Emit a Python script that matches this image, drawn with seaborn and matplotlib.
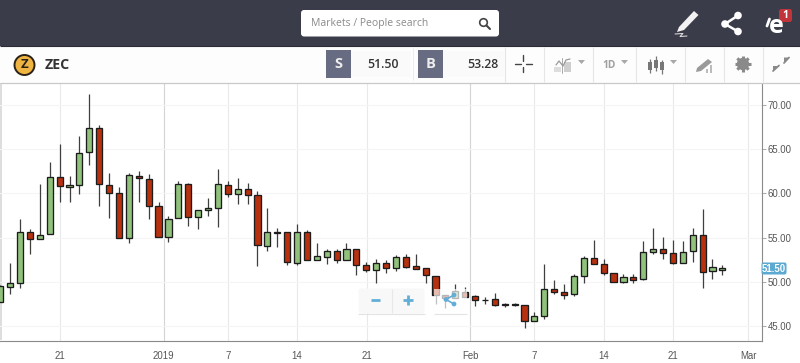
import numpy as np
import pandas as pd
import matplotlib
matplotlib.use("Agg")
import matplotlib.pyplot as plt
from matplotlib.patches import FancyBboxPatch, Rectangle, Circle, Polygon
import seaborn as sns

open_ = [47.72,49.45,49.83,55.64,54.88,55.38,61.82,60.69,60.92,64.65,67.36,60.92,60.01,54.96,62.00,61.66,58.58,55.04,57.19,61.03,57.37,58.12,58.38,60.99,59.90,60.47,59.85,54.09,55.56,55.67,52.16,55.60,52.50,52.84,53.45,52.44,53.68,51.87,51.34,52.13,51.60,52.84,51.76,51.53,50.66,48.51,48.14,48.88,48.40,47.95,48.03,47.35,47.51,47.35,45.60,46.08,49.22,48.82,48.66,50.63,52.66,51.98,51.00,49.97,50.51,50.29,53.34,53.68,53.23,52.09,53.45,55.33,51.26,51.34]
close = [49.53,49.83,55.64,54.88,55.33,61.82,60.81,60.95,64.61,67.36,61.03,60.01,54.99,62.12,61.74,58.58,55.04,57.11,61.03,57.37,58.16,58.32,61.03,59.93,60.50,59.85,54.20,55.60,55.64,52.21,55.60,52.50,52.89,53.45,52.44,53.68,51.94,51.34,52.13,51.60,52.84,51.71,51.49,50.81,48.55,48.14,48.96,48.32,47.98,47.98,47.41,47.46,47.35,45.60,46.10,49.22,48.85,48.55,50.66,52.66,51.98,51.00,50.00,50.51,50.24,53.34,53.68,53.30,52.13,53.34,55.33,51.15,51.64,51.53]
high = [49.6,52.16,57.07,56.01,61.10,63.59,65.59,62.0,66.53,71.28,67.74,62.28,60.76,62.31,62.54,62.16,59.06,57.45,61.40,61.21,58.16,59.45,62.73,61.44,61.78,61.21,60.24,58.38,56.12,55.67,56.58,55.90,54.43,53.68,53.75,54.43,53.68,52.24,52.55,52.50,53.07,53.15,53.12,51.53,50.66,48.51,49.72,49.45,48.48,48.32,48.77,47.61,47.61,47.35,46.59,52.02,50.17,49.75,50.89,52.96,54.73,52.55,51.0,50.89,50.89,54.62,56.09,55.04,54.73,54.62,56.12,58.20,52.55,51.94]
low = [47.7,48.59,49.30,53.15,54.88,55.38,59.0,59.06,59.93,63.18,58.61,57.19,54.99,54.36,59.0,57.07,55.04,54.47,57.19,56.35,55.94,57.45,56.17,59.56,58.80,58.80,51.79,53.45,53.91,51.87,51.94,52.50,52.50,52.02,52.16,52.44,50.81,51.11,49.90,50.97,51.26,51.53,51.49,49.90,47.49,47.04,48.14,48.32,47.27,47.49,47.27,47.15,47.27,44.78,45.60,45.76,48.59,48.09,48.36,49.90,51.98,50.77,50.0,49.83,49.83,50.21,53.11,52.62,51.98,52.09,52.28,49.30,50.35,50.77]

y_ticks = [45, 50, 55, 60, 65, 70]
x_tick_days = [6, 16.5, 23, 30, 37.1, 47.5, 54, 61, 68, 75.6]
x_tick_labels = ["21", "2019", "7", "14", "21", "Feb", "7", "14", "21", "Mar"]
symbol = "ZEC"
sell_price = "51.50"
buy_price = "53.28"
last_price = 51.50

GREEN = "#90c27c"
RED = "#b8310f"
EDGE = "#1c1c1c"
WICK = "#3f3f3f"
HEADER = "#3b3c49"
BLOCK = "#686c82"
BLUE = "#5ca9d2"
W, H = 800, 363

sns.set_theme(style="white")
plt.rcParams["font.family"] = ["Open Sans", "DejaVu Sans"]

fig = plt.figure(figsize=(W / 100, H / 100), dpi=100, facecolor="white")
ax = fig.add_axes([0, (H - 340.5) / H, 762 / W, (340.5 - 83) / H])

df = pd.DataFrame({"day": np.arange(len(open_)), "open": open_, "high": high, "low": low, "close": close})
df["lower"] = df[["open", "close"]].min(axis=1)
df["body"] = (df["open"] - df["close"]).abs()

wicks = df.melt(id_vars="day", value_vars=["high", "low"], value_name="price")
sns.lineplot(data=wicks, x="day", y="price", units="day", estimator=None, color=WICK,
             linewidth=0.9, legend=False, ax=ax, zorder=3, solid_capstyle="butt")

for sub, col in ((df[df.close >= df.open], GREEN), (df[df.close < df.open], RED)):
    sns.barplot(data=sub, x="day", y="body", bottom=sub["lower"].values, native_scale=True,
                width=0.62, color=col, saturation=1, edgecolor=EDGE, linewidth=0.95,
                errorbar=None, ax=ax, zorder=4)

ax.set_xlim(-0.03, 762 / 9.895)
ax.set_ylim(43.36, 72.49)
ax.set_xlabel("")
ax.set_ylabel("")
ax.set_xticks(x_tick_days)
ax.set_xticklabels(x_tick_labels)
ax.yaxis.tick_right()
ax.set_yticks(y_ticks)
ax.set_yticklabels([f"{v:.2f}" for v in y_ticks])
ax.tick_params(axis="x", length=3, width=0.7, color="#aaaaaa", labelsize=6.9, labelcolor="#555555", pad=4.5)
ax.tick_params(axis="y", length=3, width=0.7, color="#aaaaaa", labelsize=6.9, labelcolor="#555555", pad=1.2)
for t in ax.get_xticklabels() + ax.get_yticklabels():
    t.set_fontfamily(["Liberation Sans", "DejaVu Sans"])
ax.yaxis.grid(True, color="#f5f5f5", linewidth=0.8)
ax.xaxis.grid(True, color="#e9e9e9", linewidth=0.8)
for g, lab in zip(ax.get_xgridlines(), x_tick_labels):
    if lab in ("2019", "Feb"):
        g.set_color("#d4d4d4")
ax.set_axisbelow(True)
for s in ("top", "left"):
    ax.spines[s].set_visible(False)
ax.spines["right"].set_color("#8a8a8a")
ax.spines["bottom"].set_color("#8a8a8a")
ax.spines["right"].set_linewidth(0.8)
ax.spines["bottom"].set_linewidth(0.8)
ax.patch.set_alpha(0)

# page chrome, in a full-figure pixel overlay
ui = fig.add_axes([0, 0, 1, 1], zorder=10)
ui.set_xlim(0, W)
ui.set_ylim(H, 0)
ui.axis("off")
ui.patch.set_alpha(0)
under = fig.add_axes([0, 0, 1, 1], zorder=-1)
under.set_xlim(0, W)
under.set_ylim(H, 0)
under.axis("off")
under.add_patch(Rectangle((0, 83), 1.5, 257, color="#dddddd", lw=0))


def rect(x, y, w, h, c, **k):
    ui.add_patch(Rectangle((x, y), w, h, facecolor=c, edgecolor="none", **k))


def rbox(x, y, w, h, c, r=2.5, **k):
    k.setdefault("edgecolor", "none")
    ui.add_patch(FancyBboxPatch((x + r, y + r), w - 2 * r, h - 2 * r,
                                boxstyle=f"round,pad={r},rounding_size={r}", facecolor=c, **k))


def txt(x, y, s, size, c, weight="normal", ha="center", **k):
    ui.text(x, y, s, fontsize=size, color=c, fontweight=weight, ha=ha, va="center", **k)


def seg(xs, ys, c, lw=1.0, **k):
    ui.plot(xs, ys, color=c, lw=lw, solid_capstyle=k.pop("cap", "round"), **k)


rect(0, 0, W, 46, HEADER)
rect(0, 46, W, 36.5, "#fdfdfd")
seg([0, W], [82.5, 82.5], "#c9c9c9", 0.9, cap="butt")
seg([0, W], [46, 46], "#2b2c36", 0.8, cap="butt")

# search box
rbox(301, 10, 198, 26.5, "white", r=3)
txt(311, 23.5, "Markets / People search", 7.5, "#8a8a8a", ha="left")
ui.add_patch(Circle((483.5, 22.5), 3.8, facecolor="none", edgecolor="#444444", lw=1.2))
seg([486.5, 490], [25.5, 29], "#444444", 1.5)

# pencil
ui.add_patch(Polygon([[679, 27], [694, 11], [698.5, 15], [684, 30], [677, 32]], closed=True, facecolor="#f2f2f2", edgecolor="none"))
seg([675, 683, 680, 687], [34, 33.5, 36.5, 36], "#e6e6e6", 0.7)

# share
for cx, cy in ((738, 15.5), (725, 24), (738, 31.5)):
    ui.add_patch(Circle((cx, cy), 3.8, color="white", lw=0))
seg([738, 725, 738], [15.5, 24, 31.5], "white", 1.8)

# notification logo
ui.text(776, 26.5, "e", fontsize=18, fontweight="bold", color="white", ha="center", va="center")
seg([767, 769.5], [26, 19], "white", 2.0)
rbox(779, 9, 13, 13, "#c0343a", r=2.5)
txt(785.5, 15.5, "1", 7.5, "white", "bold")

# coin and symbol
ui.add_patch(Circle((24.5, 65), 10, facecolor="#f0b443", edgecolor="#2a2118", lw=1.4))
txt(24.5, 65, "Z", 9.5, "#2a2118", "bold")
txt(45, 65, symbol, 10.2, "#333333", "bold", ha="left")

# sell / buy
rect(326, 50, 24.5, 27.5, BLOCK)
txt(338, 64, "S", 10.5, "#eeeeee", "bold")
rect(350.5, 51, 60, 26, "#fafafa")
txt(399, 64.5, sell_price, 8.8, "#333333", "semibold", ha="right")
rect(418, 50, 24.5, 27.5, BLOCK)
txt(430.5, 64, "B", 10.5, "#eeeeee", "bold")
rect(442.5, 51, 61, 26, "#fafafa")
txt(499, 64.5, buy_price, 8.8, "#333333", "semibold", ha="right")

# toolbar separators
for sx in (504.5, 543.5, 592.5, 635.5, 684.5, 724, 762.5):
    seg([sx, sx], [47, 82], "#e6e6e6", 0.8, cap="butt")
seg([412.5, 412.5], [48, 80], "#ececec", 0.7, cap="butt")

# crosshair
seg([514.5, 521], [64, 64], "#444444", 1)
seg([526, 532], [64, 64], "#444444", 1)
seg([523, 523], [55, 61], "#444444", 1)
seg([523, 523], [67, 72], "#444444", 1)

# indicators icon
rect(564, 62, 7, 10, "#cfcfcf")
rect(554, 67, 7, 5, "#dddddd")
seg([556, 559, 563, 566, 570], [65, 61, 66, 60, 59], "#9a9a9a", 0.9)
seg([562, 562], [58, 73], "#9a9a9a", 0.6)
ui.add_patch(Polygon([[578, 60], [585, 60], [581.5, 64]], closed=True, facecolor="#a8a8a8", edgecolor="none"))

# period
txt(609.5, 65, "1D", 7.4, "#a0a0a0", "bold")
ui.add_patch(Polygon([[621, 60], [628, 60], [624.5, 64]], closed=True, facecolor="#a8a8a8", edgecolor="none"))

# candle icon
for cx, top, bot, wt, wb in ((650, 62, 70, 59, 73), (656, 60, 68, 56, 71), (662, 62, 70, 60, 74)):
    seg([cx, cx], [wt, wb], "#777777", 0.9, cap="butt")
    rect(cx - 2.2, top, 4.4, bot - top, "#777777")
ui.add_patch(Polygon([[670, 60], [677, 60], [673.5, 64]], closed=True, facecolor="#a8a8a8", edgecolor="none"))

# drawing-tools icon
ui.add_patch(Polygon([[697, 68], [708, 59], [712, 62], [701, 71], [696, 72]], closed=True, facecolor="#9a9a9a", edgecolor="none"))
rect(706, 69, 2.2, 4, "#bbbbbb")
rect(710, 65, 2.2, 8, "#bbbbbb")

# gear
ui.add_patch(Circle((743, 64), 6.2, facecolor="#8a8a8a", edgecolor="none"))
for a in np.arange(0, 2 * np.pi, np.pi / 4):
    seg([743, 743 + 8 * np.cos(a)], [64, 64 + 8 * np.sin(a)], "#8a8a8a", 2.2, cap="butt")
ui.add_patch(Circle((743, 64), 2.6, facecolor="#fdfdfd", edgecolor="none"))

# compress arrows
seg([773, 779], [71, 65.5], "#8a8a8a", 1.3)
seg([784, 789], [63, 57.5], "#8a8a8a", 1.3)
ui.add_patch(Polygon([[773, 66], [778.5, 66], [773, 71.5]], closed=True, facecolor="#8a8a8a", edgecolor="none"))
ui.add_patch(Polygon([[784, 57.5], [789.5, 57.5], [784, 63]], closed=True, facecolor="#8a8a8a", edgecolor="none"))

# zoom controls
rbox(358.5, 288.5, 66, 25, "#f8f8f8", r=2, linewidth=0.6)
seg([358, 425], [313.5, 313.5], "#e3e3e3", 0.8, cap="butt")
seg([391.5, 391.5], [289, 313], "#e8e8e8", 0.8, cap="butt")
seg([370.5, 380], [300, 300], "#62aed6", 2.0, cap="butt")
seg([403, 413], [300, 300], "#62aed6", 2.0, cap="butt")
seg([408, 408], [295, 305], "#62aed6", 2.0, cap="butt")
rect(433.5, 288.5, 33, 25, "white", alpha=0.68)
seg([433.5, 466.5], [313.5, 313.5], "#e3e3e3", 0.8, cap="butt")
for cx, cy in ((446, 299.5), (454, 295), (454, 304)):
    ui.add_patch(Circle((cx, cy), 2.4, color="#62aed6", lw=0))
seg([454, 446, 454], [295, 299.5, 304], "#62aed6", 1.2)

# last price flag
rbox(761.5, 262.5, 25, 12, BLUE, r=2)
txt(774, 268.7, f"{last_price:.2f}", 6.9, "white", "bold", family=["Liberation Sans", "DejaVu Sans"])

fig.savefig("out.png", dpi=100, facecolor="white")
